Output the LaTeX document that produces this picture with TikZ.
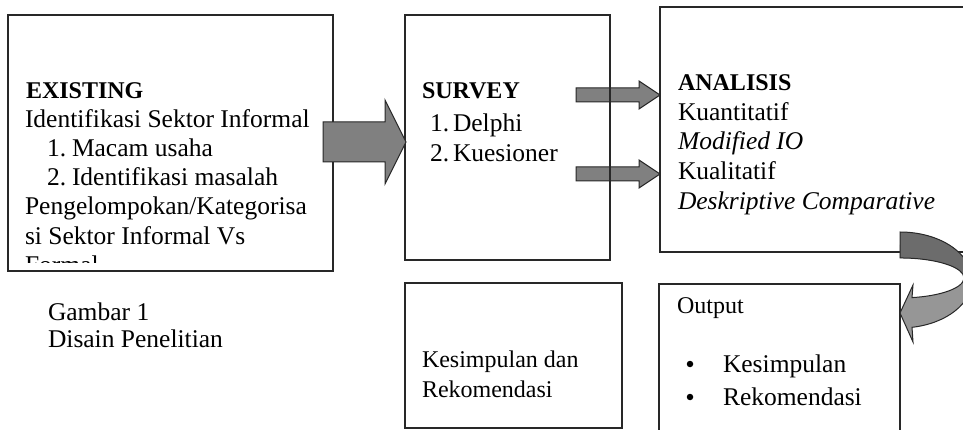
\documentclass[tikz,border=0pt]{standalone}
\usepackage{fontspec}
\setmainfont{Liberation Serif}
\definecolor{arrowgray}{RGB}{128,128,128}
\definecolor{darkband}{RGB}{108,108,108}
\definecolor{lightband}{RGB}{150,150,150}
\definecolor{edge}{RGB}{40,40,40}
\tikzset{
  box/.style={draw=edge, line width=1.2pt, inner sep=0pt, outer sep=0pt, anchor=north west},
  txt/.style={anchor=base west, inner sep=0pt, outer sep=0pt, font=\fontsize{25.5pt}{29pt}\selectfont},
  headtxt/.style={anchor=base west, inner sep=0pt, outer sep=0pt, font=\fontsize{24pt}{28pt}\selectfont\bfseries},
  smalltxt/.style={anchor=base west, inner sep=0pt, outer sep=0pt, font=\fontsize{24pt}{28pt}\selectfont},
  blockarrow/.style={fill=arrowgray, draw=edge, line width=1pt, line join=miter},
  bulletdot/.style={fill=black, circle, inner sep=0pt, minimum size=6.5pt},
}
\begin{document}
\begin{tikzpicture}[x=1pt,y=-1pt]
\useasboundingbox (0,0) rectangle (963,430);
\clip (0,0) rectangle (963,430);

% ---- boxes ----
\node[box, minimum width=325pt, minimum height=256pt] (existing) at (8,15) {};
\node[box, minimum width=330pt, minimum height=245pt] (analisis) at (660,7) {};
\node[box, minimum width=217pt, minimum height=145pt] (kesimpulan) at (405,283) {};
\node[box, minimum width=241pt, minimum height=170pt] (output) at (659,284) {};

% ---- small arrows (behind the SURVEY box border) ----
\draw[blockarrow] (576,88) -- (639,88) -- (639,81) -- (660,95) -- (639,109) -- (639,102) -- (576,102) -- cycle;
\draw[blockarrow] (576,167) -- (639,167) -- (639,160) -- (660,174) -- (639,188) -- (639,181) -- (576,181) -- cycle;

\node[box, minimum width=205pt, minimum height=245pt] (survey) at (405,15) {};

% ---- big arrow (on top of EXISTING box border) ----
\draw[blockarrow] (323,122) -- (385,122) -- (385,100) -- (406,142) -- (385,184) -- (385,162) -- (323,162) -- cycle;

% ---- curved arrow ----
\fill[lightband] (900,232) arc[start angle=-90, end angle=80.4, x radius=72, y radius=48]
   -- (913,342) -- (900,313) -- (913,285) -- (912,297.6)
   arc[start angle=79.2, end angle=-90, x radius=64, y radius=20] -- cycle;
\fill[darkband] (900,232) arc[start angle=-90, end angle=10, x radius=72, y radius=48]
   -- (963,281.5) arc[start angle=10, end angle=-90, x radius=64, y radius=20] -- cycle;
\draw[draw=edge, line width=1pt, line join=miter] (900,232) arc[start angle=-90, end angle=80.4, x radius=72, y radius=48]
   -- (913,342) -- (900,313) -- (913,285) -- (912,297.6)
   arc[start angle=79.2, end angle=-90, x radius=64, y radius=20] -- cycle;

% ---- EXISTING text ----
\node[headtxt] (ex0) at (26,99) {EXISTING};
\node[txt] (ex1) at (25,128) {Identifikasi Sektor Informal};
\node[txt] (ex2n) at (47,157) {1.};
\node[txt] (ex2) at (72,157) {Macam usaha};
\node[txt] (ex3n) at (47,186) {2.};
\node[txt] (ex3) at (72,186) {Identifikasi masalah};
\node[txt] (ex4) at (25,215) {Pengelompokan/Kategorisa};
\node[txt] (ex5) at (25,244) {si Sektor Informal Vs};
\begin{scope}
\clip (8,15) rectangle (333,263);
\node[txt] (ex6) at (25,273) {Formal};
\end{scope}

% ---- SURVEY text ----
\node[headtxt] (sv0) at (422,99) {SURVEY};
\node[txt] (sv1n) at (430,132) {1.};
\node[txt] (sv1) at (453,132) {Delphi};
\node[txt] (sv2n) at (430,162) {2.};
\node[txt] (sv2) at (453,162) {Kuesioner};

% ---- ANALISIS text ----
\node[headtxt] (an0) at (678,91) {ANALISIS};
\node[txt] (an1) at (678,121) {Kuantitatif};
\node[txt] (an2) at (678,150) {\itshape Modified IO};
\node[txt] (an3) at (678,180) {Kualitatif};
\node[txt] (an4) at (678,210) {\itshape Deskriptive Comparative};

% ---- caption ----
\node[txt] (cap1) at (48,320) {Gambar 1};
\node[txt] (cap2) at (48,347) {Disain Penelitian};

% ---- Kesimpulan box ----
\node[smalltxt] (ks1) at (422,367) {Kesimpulan dan};
\node[smalltxt] (ks2) at (422,397) {Rekomendasi};

% ---- Output box ----
\node[smalltxt] (out0) at (677,313) {Output};
\node[bulletdot] (b1) at (690,364) {};
\node[txt] (out1) at (723,372) {Kesimpulan};
\node[bulletdot] (b2) at (690,397) {};
\node[txt] (out2) at (723,405) {Rekomendasi};
\end{tikzpicture}
\end{document}
